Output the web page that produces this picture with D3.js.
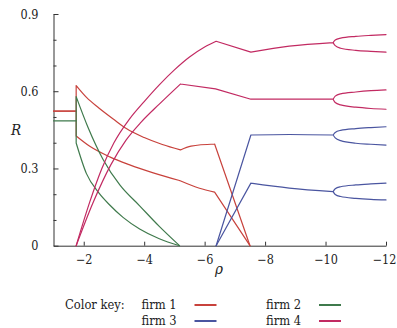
<!DOCTYPE html>
<html>
<head>
<meta charset="utf-8">
<script src="https://cdn.jsdelivr.net/npm/d3@7"></script>
<style>
  body { margin: 0; background: #fff; }
  svg text { font-family: "DejaVu Serif Condensed", "DejaVu Serif", serif; font-stretch: condensed; }
</style>
</head>
<body>
<svg id="chart" width="397" height="328"></svg>
<script>
// rho (x) and R (y); each line is a list of smooth pieces joined at kinks
const firm1Upper = [
  [[-1, 0.523], [-1.75, 0.523]],
  [[-1.75, 0.523], [-1.75, 0.622]],
  [[-1.75, 0.622], [-2.1, 0.575], [-2.5, 0.535], [-3.0, 0.49], [-3.41, 0.455], [-4.0, 0.42], [-4.6, 0.393], [-5.2, 0.372]],
  [[-5.2, 0.372], [-5.55, 0.387], [-6.33, 0.395]],
  [[-6.33, 0.395], [-7.5, 0]],
];
const firm1Lower = [
  [[-1, 0.523], [-1.75, 0.523]],
  [[-1.75, 0.523], [-1.75, 0.426]],
  [[-1.75, 0.426], [-2.2, 0.386], [-2.86, 0.345], [-3.5, 0.315], [-4.3, 0.283], [-5.17, 0.253]],
  [[-5.17, 0.253], [-5.83, 0.223], [-6.33, 0.208]],
  [[-6.33, 0.208], [-7.5, 0]],
];
const firm2Upper = [
  [[-1, 0.485], [-1.75, 0.485]],
  [[-1.75, 0.485], [-1.75, 0.579]],
  [[-1.75, 0.579], [-2.14, 0.46], [-2.64, 0.335], [-3.2, 0.235], [-3.85, 0.155], [-4.5, 0.075], [-5.17, 0]],
];
const firm2Lower = [
  [[-1.75, 0.485], [-1.75, 0.399]],
  [[-1.75, 0.399], [-2.09, 0.28], [-2.5, 0.205], [-2.86, 0.158], [-3.3, 0.11], [-3.85, 0.065], [-4.5, 0.027], [-5.17, 0]],
];
const firm3Upper = [
  [[-6.38, 0], [-7.53, 0.43]],
  [[-7.53, 0.43], [-8.8, 0.432], [-10.25, 0.43]],
  [[-10.25, 0.43], [-10.32, 0.44], [-10.5, 0.448], [-11.0, 0.455], [-11.5, 0.459], [-12, 0.462]],
  [[-10.25, 0.43], [-10.32, 0.419], [-10.5, 0.408], [-11.0, 0.398], [-11.5, 0.394], [-12, 0.391]],
];
const firm3Lower = [
  [[-6.38, 0], [-7.53, 0.243]],
  [[-7.53, 0.243], [-8.8, 0.224], [-10.25, 0.21]],
  [[-10.25, 0.21], [-10.32, 0.221], [-10.5, 0.229], [-11.0, 0.236], [-11.5, 0.24], [-12, 0.243]],
  [[-10.25, 0.21], [-10.32, 0.199], [-10.5, 0.191], [-11.0, 0.184], [-11.5, 0.18], [-12, 0.178]],
];
const firm4Upper = [
  [[-1.75, 0], [-2.2, 0.17], [-2.6, 0.3], [-3.0, 0.4], [-3.5, 0.49], [-4.0, 0.56], [-4.5, 0.625], [-5.0, 0.683], [-5.5, 0.733], [-6.0, 0.772], [-6.38, 0.794]],
  [[-6.38, 0.794], [-7.53, 0.752]],
  [[-7.53, 0.752], [-8.8, 0.775], [-10.25, 0.789]],
  [[-10.25, 0.789], [-10.32, 0.799], [-10.5, 0.806], [-11.0, 0.813], [-11.5, 0.817], [-12, 0.82]],
  [[-10.25, 0.789], [-10.32, 0.777], [-10.5, 0.767], [-11.0, 0.759], [-11.5, 0.755], [-12, 0.752]],
];
const firm4Lower = [
  [[-1.75, 0], [-2.3, 0.165], [-2.9, 0.315], [-3.4, 0.41], [-3.9, 0.48], [-4.5, 0.55], [-5.2, 0.628]],
  [[-5.2, 0.628], [-6.36, 0.609]],
  [[-6.36, 0.609], [-7.53, 0.569]],
  [[-7.53, 0.569], [-10.25, 0.569]],
  [[-10.25, 0.569], [-10.32, 0.581], [-10.5, 0.59], [-11.0, 0.597], [-11.5, 0.602], [-12, 0.605]],
  [[-10.25, 0.569], [-10.32, 0.556], [-10.5, 0.547], [-11.0, 0.538], [-11.5, 0.533], [-12, 0.53]],
];

const xTicks = [-2, -4, -6, -8, -10, -12];
const yTicks = [0, 0.3, 0.6, 0.9];
const yMinorTicks = [0.1, 0.2, 0.4, 0.5, 0.7, 0.8];
const firmNames = ['firm 1', 'firm 2', 'firm 3', 'firm 4'];
const firmColors = ['#c8423c', '#3f7a4c', '#4a55a0', '#c22a62'];

const lines = [
  { firm: 0, pieces: firm1Upper }, { firm: 0, pieces: firm1Lower },
  { firm: 1, pieces: firm2Upper }, { firm: 1, pieces: firm2Lower },
  { firm: 2, pieces: firm3Upper }, { firm: 2, pieces: firm3Lower },
  { firm: 3, pieces: firm4Upper }, { firm: 3, pieces: firm4Lower },
];

const svg = d3.select('#chart');

const xScale = d3.scaleLinear().domain([-1, -12]).range([53.5, 386]);
const yScale = d3.scaleLinear().domain([0, 0.9]).range([245.7, 14]);

// axes, ticks pointing inwards
svg.append('g')
  .attr('transform', 'translate(0,245.7)')
  .call(d3.axisBottom(xScale).tickValues(xTicks).tickSizeInner(-4).tickSizeOuter(0).tickPadding(9))
  .call((g) => g.selectAll('text').style('font-size', '12.5px'))
  // the last label would touch the right edge
  .call((g) => g.selectAll('.tick:last-of-type text').attr('dx', -2));

svg.append('g')
  .attr('transform', 'translate(53.5,0)')
  .call(d3.axisLeft(yScale).tickValues(yTicks).tickSizeInner(-5).tickSizeOuter(0).tickPadding(15)
    .tickFormat((d) => (d === 0 ? '0' : d3.format('.1f')(d))))
  .call((g) => g.selectAll('text').style('font-size', '12.5px'));

svg.append('g')
  .attr('transform', 'translate(53.5,0)')
  .call(d3.axisLeft(yScale).tickValues(yMinorTicks).tickSizeInner(-3).tickSizeOuter(0).tickFormat(''))
  .call((g) => g.select('.domain').remove());

svg.selectAll('.domain, .tick line').attr('stroke', '#333');
svg.selectAll('.tick text').attr('fill', '#222');

svg.append('text')
  .attr('x', 16).attr('y', 135)
  .attr('text-anchor', 'middle')
  .style('font-style', 'italic').style('font-size', '15px')
  .attr('fill', '#222')
  .text('R');

svg.append('text')
  .attr('x', 219).attr('y', 274)
  .attr('text-anchor', 'middle')
  .style('font-style', 'italic').style('font-size', '15px')
  .attr('fill', '#222')
  .text('ρ');

const smooth = d3.line().x((d) => xScale(d[0])).y((d) => yScale(d[1])).curve(d3.curveMonotoneX);
const straight = d3.line().x((d) => xScale(d[0])).y((d) => yScale(d[1]));

svg.append('g')
  .selectAll('path')
  .data(lines)
  .enter()
  .append('path')
  .attr('d', (l) => l.pieces.map((p) => (p.length > 2 ? smooth(p) : straight(p))).join(''))
  .attr('fill', 'none')
  .attr('stroke', (l) => firmColors[l.firm])
  .attr('stroke-width', 1.2)
  .attr('stroke-linejoin', 'round')
  .attr('stroke-linecap', 'round');

// colour key
const key = svg.append('g').style('font-size', '12.8px').attr('fill', '#222');
key.append('text').attr('x', 65).attr('y', 309).text('Color key:');
const keyPos = [[141.5, 309], [266, 309], [141.5, 325], [266, 325]];
firmNames.forEach((name, i) => {
  const [kx, ky] = keyPos[i];
  key.append('text').attr('x', kx).attr('y', ky).text(name);
  key.append('line')
    .attr('x1', kx + 53).attr('x2', kx + 75)
    .attr('y1', ky - 4).attr('y2', ky - 4)
    .attr('stroke', firmColors[i]).attr('stroke-width', 2);
});
</script>
</body>
</html>
